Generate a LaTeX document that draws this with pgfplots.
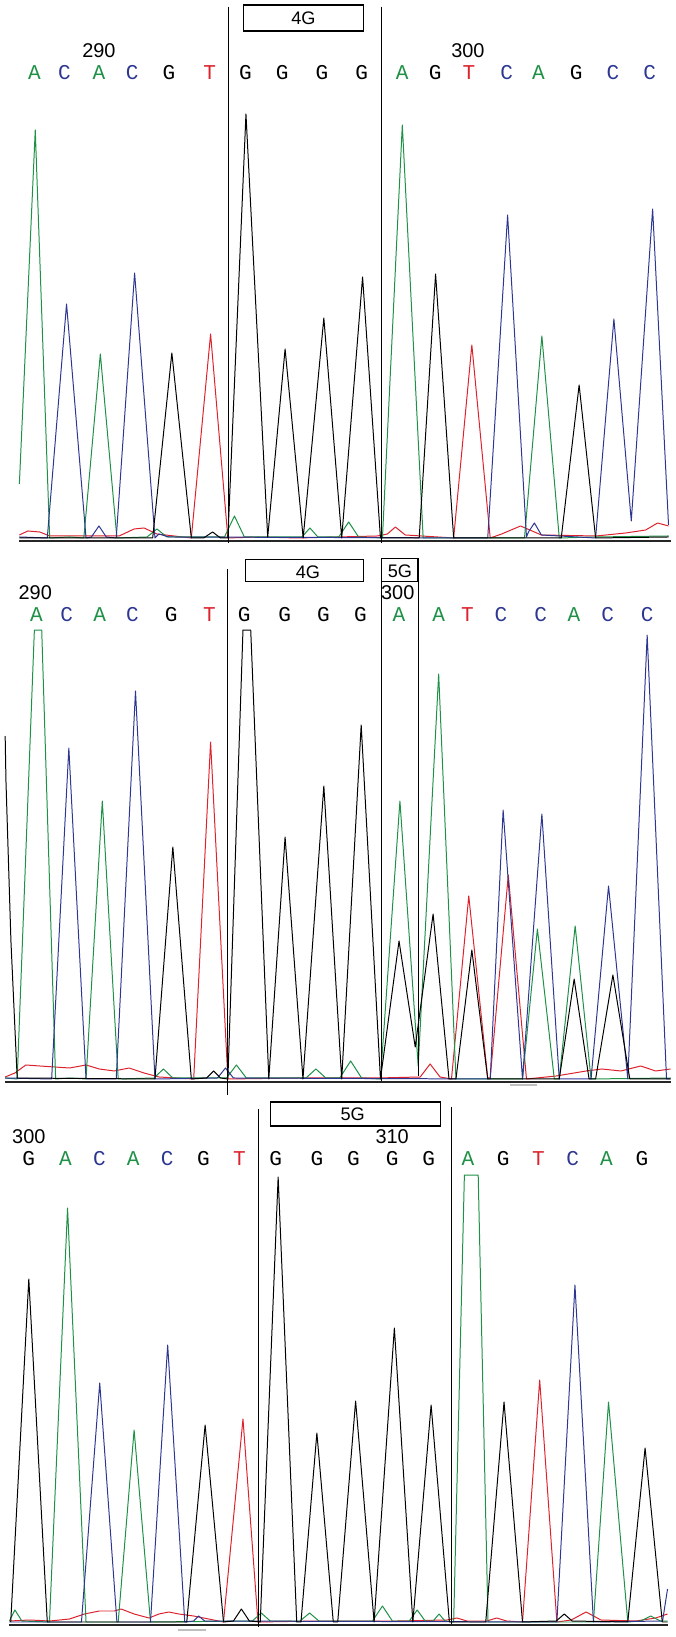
\documentclass[border=0pt]{standalone}
\usepackage{fontspec}
\setmainfont{Liberation Sans}
\newfontfamily\basefont{Liberation Mono}
\usepackage{pgfplots}
\pgfplotsset{compat=1.18}
\definecolor{trA}{RGB}{30,145,70}
\definecolor{trC}{RGB}{45,55,145}
\definecolor{trT}{RGB}{220,35,45}
\definecolor{trG}{RGB}{0,0,0}
\pgfplotsset{
  chrom/.style={x=0.029806cm,y=0.03cm,xmin=0,xmax=679.4,hide axis,clip=false,anchor=origin},
  trace/.style={sharp plot,line width=0.85pt,no marks,line join=round},
}
\newcommand\bfnt{\basefont\fontsize{18}{18}\selectfont}
\newcommand\nfnt{\fontsize{17}{17}\selectfont}
\newcommand\gfnt{\fontsize{15.5}{15.5}\selectfont}
\newcommand\bs[4]{\node[font=\bfnt,text=#1,inner sep=0pt] at (axis cs:#2,#3) {#4};}
\begin{document}
\begin{tikzpicture}
% whole page: 675 x 1637 px at 0.03cm each
\path (0,0) rectangle (20.25cm,49.11cm);
% ---------------- panel 1 ----------------
\begin{axis}[chrom,ymin=-8,ymax=540,at={(0,32.91cm)}]
\addplot[trace,trT] coordinates {(19.5,5)(28,9)(40,8)(50,4)(120,4)(135,11)(145,12)(158,6)(192.6,2)(212,206)(229.4,2)(260,3)(300,2)(340,3)(380,4)(390,6)(398,13)(408,5)(456.7,2)(475,195)(493.5,2)(505,6)(524,14)(545,5)(600,4)(630,7)(650,10)(662,17)(673,14)};
\addplot[trace,trA] coordinates {(19.5,56)(35.5,410)(50,2)(70,3)(84.4,2)(101,186)(117.7,2)(148,3)(158,11)(168,3)(226,3)(236,24)(246,3)(304,3)(312,12)(320,3)(341,3)(351,18)(361,3)(385,2)(405,415)(426,2)(528,2)(545.5,204)(563,2)(600,3)(673,4)};
\addplot[trace,trC] coordinates {(19.5,3)(47.6,2)(67,236)(86.6,2)(92,3)(99.6,14)(107,3)(117,2)(135.5,267)(156,2)(160,6)(170,3)(491,2)(511,325)(530,3)(532,8)(538,17)(545,5)(599.6,2)(618,221)(635.5,19)(657,331)(673,15)};
\addplot[trace,trG] coordinates {(19.5,2)(153.7,2)(173,187)(192.6,2)(205,2)(214,8)(222,2)(229.4,2)(247.6,426)(269.5,3)(287,191)(305.2,2)(326,222)(344,2)(365,263)(383,2)(422,2)(438.5,266)(456.7,2)(565,2)(583,155)(599.6,2)(673,3)};
\draw[line width=1.7pt,black!85] (axis cs:19.5,-1) -- (axis cs:675,-1);
\draw[line width=0.8pt] (axis cs:229.5,533) -- (axis cs:229.5,-3);
\draw[line width=0.8pt] (axis cs:384.4,533) -- (axis cs:384.4,-3);
\draw[line width=1pt,fill=white] (axis cs:245,509) rectangle (axis cs:366,535);
\node[font=\gfnt,inner sep=0pt] at (axis cs:305.5,522) {4G};
\node[font=\nfnt,inner sep=0pt] at (axis cs:99.6,489) {290};
\node[font=\nfnt,inner sep=0pt] at (axis cs:471,489) {300};
\bs{trA}{34.6}{467}{A}\bs{trC}{65}{467}{C}\bs{trA}{99.6}{467}{A}\bs{trC}{133}{467}{C}
\bs{trG}{170}{467}{G}\bs{trT}{211}{467}{T}\bs{trG}{247}{467}{G}\bs{trG}{284}{467}{G}
\bs{trG}{324}{467}{G}\bs{trG}{364}{467}{G}\bs{trA}{405}{467}{A}\bs{trG}{438}{467}{G}
\bs{trT}{472}{467}{T}\bs{trC}{510}{467}{C}\bs{trA}{542}{467}{A}\bs{trG}{580}{467}{G}
\bs{trC}{617}{467}{C}\bs{trC}{654}{467}{C}
\end{axis}
% ---------------- panel 2 ----------------
\begin{axis}[chrom,ymin=-10,ymax=533,at={(0,16.68cm)}]
\addplot[trace,trT] coordinates {(5.2,4)(15,8)(26,16)(40,15)(55,14)(70,13)(86.6,16)(100,12)(115,10)(130,13)(145,8)(160,4)(195,2)(212,339)(229.4,2)(300,3)(380,3)(423,4)(433,17)(443,4)(454.5,2)(471.9,185)(491,3)(493.5,3)(511.7,206)(530,2)(560,5)(590,10)(606,12)(625,10)(645,15)(660,10)(675,12)};
\addplot[trace,trA] coordinates {(5.2,3)(17.3,2)(34.6,451)(42,451)(56,2)(70,3)(86.6,2)(103,280)(119,2)(155,3)(164.5,12)(174,3)(228,3)(238,16)(248,3)(308,3)(318,12)(328,3)(342,3)(353,20)(364,3)(383,2)(402.6,280)(421,15)(441.6,407)(459,2)(526,2)(541,152)(558,2)(563,2)(579,155)(595,2)(675,3)};
\addplot[trace,trC] coordinates {(5.2,3)(52,2)(69.3,333)(86.6,2)(117,2)(136.4,390)(156,2)(219,3)(227,13)(235,3)(493.5,2)(506.5,271)(526,2)(545.5,267)(563,2)(595,2)(612.6,195)(632,2)(651.5,446)(671,2)(675,2)};
\addplot[trace,trG] coordinates {(5.2,345)(6,300)(11,140)(17.3,3)(156,2)(174,234)(192.6,2)(208,3)(215,10)(222,3)(229.4,2)(244.6,451)(252.4,451)(270.6,2)(287,244)(305,2)(326,295)(344,2)(363.6,356)(383,2)(401.7,140)(418,34)(436,167)(452,2)(459,2)(475,131)(491,2)(563,2)(578,102)(593,2)(599.6,2)(617,106)(634,2)(675,2)};
\draw[line width=1.7pt,black!85] (axis cs:5.2,-1) -- (axis cs:675,-1);
\draw[line width=2pt,black!25] (axis cs:513,-4) -- (axis cs:541,-4);
\draw[line width=0.8pt] (axis cs:229,512) -- (axis cs:229,-14);
\draw[line width=0.8pt] (axis cs:384.4,511) -- (axis cs:384.4,0);
\draw[line width=0.8pt] (axis cs:420.8,499) -- (axis cs:420.8,5);
\draw[line width=1pt,fill=white] (axis cs:246.8,499.2) rectangle (axis cs:365.8,521.4);
\node[font=\gfnt,inner sep=0pt] at (axis cs:310,509) {4G};
\draw[line width=1pt,fill=white] (axis cs:384.4,499.2) rectangle (axis cs:420.8,522.4);
\node[font=\gfnt,inner sep=0pt] at (axis cs:402.6,510) {5G};
\node[font=\nfnt,inner sep=0pt] at (axis cs:35.5,488.5) {290};
\node[font=\nfnt,inner sep=0pt] at (axis cs:400.4,488.5) {300};
\bs{trA}{36.8}{466.7}{A}\bs{trC}{67.1}{466.7}{C}\bs{trA}{100.4}{466.7}{A}\bs{trC}{133.3}{466.7}{C}
\bs{trG}{172.3}{466.7}{G}\bs{trT}{210.8}{466.7}{T}\bs{trG}{245.9}{466.7}{G}\bs{trG}{286.6}{466.7}{G}
\bs{trG}{325.5}{466.7}{G}\bs{trG}{362.8}{466.7}{G}\bs{trA}{401.7}{466.7}{A}\bs{trA}{441.6}{466.7}{A}
\bs{trT}{470.6}{466.7}{T}\bs{trC}{504.3}{466.7}{C}\bs{trC}{544.2}{466.7}{C}\bs{trA}{577.9}{466.7}{A}
\bs{trC}{611.7}{466.7}{C}\bs{trC}{651.5}{466.7}{C}
\end{axis}
% ---------------- panel 3 ----------------
\begin{axis}[chrom,ymin=-13,ymax=533,at={(0,0.39cm)}]
\addplot[trace,trT] coordinates {(9.5,3)(30,4)(50,3)(70,5)(85,10)(100,13)(115,13)(122,15)(135,10)(150,6)(160,10)(170,12)(180,10)(195,8)(210,5)(225,2)(244.6,205)(259.7,2)(320,3)(400,3)(450,4)(460,6)(470,3)(490,3)(500,6)(510,3)(526,2)(543.3,244)(560.6,2)(575,4)(590,12)(605,4)(640,3)(660,6)(672,10)};
\addplot[trace,trA] coordinates {(9.5,3)(15,14)(22,3)(49.8,2)(68,416)(86.6,2)(119,2)(135,194)(151.5,2)(254,3)(263,11)(272,3)(302,3)(311.7,11)(321,3)(375,3)(385,18)(395,3)(412,3)(420,14)(428,3)(436,3)(442,10)(448,3)(456.7,2)(467.5,449)(481.4,449)(491.3,2)(597.4,2)(612.6,222)(632,2)(645,3)(655,8)(665,3)(672,3)};
\addplot[trace,trC] coordinates {(9.5,2)(82,2)(100.4,241)(117.7,2)(151.5,2)(168.8,279)(186,2)(195,3)(200,8)(206,3)(560.6,2)(578.8,339)(597.4,2)(667,3)(672,35)};
\addplot[trace,trG] coordinates {(10.8,2)(29,345)(47.6,2)(188,2)(206.5,199)(225,2)(235,3)(243,15)(251,3)(262,2)(280,447)(298.7,2)(303,2)(319,191)(335.5,2)(340,2)(358,223)(376.6,2)(397,296)(415.6,2)(434,219)(452.4,2)(489,2)(507.4,222)(526,2)(560,3)(568,10)(576,3)(632,2)(649.4,176)(666.7,2)(672,2)};
\draw[line width=1.7pt,black!85] (axis cs:9.5,-1) -- (axis cs:672,-1);
\draw[line width=2pt,black!25] (axis cs:179.6,-6) -- (axis cs:207,-6);
\draw[line width=0.8pt] (axis cs:260.6,515) -- (axis cs:260.6,-3);
\draw[line width=0.8pt] (axis cs:454.5,517) -- (axis cs:454.5,0);
\draw[line width=1pt,fill=white] (axis cs:271.9,498) rectangle (axis cs:443.7,522);
\node[font=\gfnt,inner sep=0pt] at (axis cs:355,509.5) {5G};
\node[font=\nfnt,inner sep=0pt] at (axis cs:29,487.2) {300};
\node[font=\nfnt,inner sep=0pt] at (axis cs:394.8,487.2) {310};
\bs{trG}{29}{465}{G}\bs{trA}{65.8}{465}{A}\bs{trC}{100}{465}{C}\bs{trA}{134.2}{465}{A}
\bs{trC}{168.4}{465}{C}\bs{trG}{204.8}{465}{G}\bs{trT}{241.1}{465}{T}\bs{trG}{277.5}{465}{G}
\bs{trG}{319}{465}{G}\bs{trG}{355.8}{465}{G}\bs{trG}{394.8}{465}{G}\bs{trG}{431.6}{465}{G}
\bs{trA}{471}{465}{A}\bs{trG}{506.5}{465}{G}\bs{trT}{542}{465}{T}\bs{trC}{576.6}{465}{C}
\bs{trA}{610.4}{465}{A}\bs{trG}{646.3}{465}{G}
\end{axis}
\end{tikzpicture}
\end{document}
